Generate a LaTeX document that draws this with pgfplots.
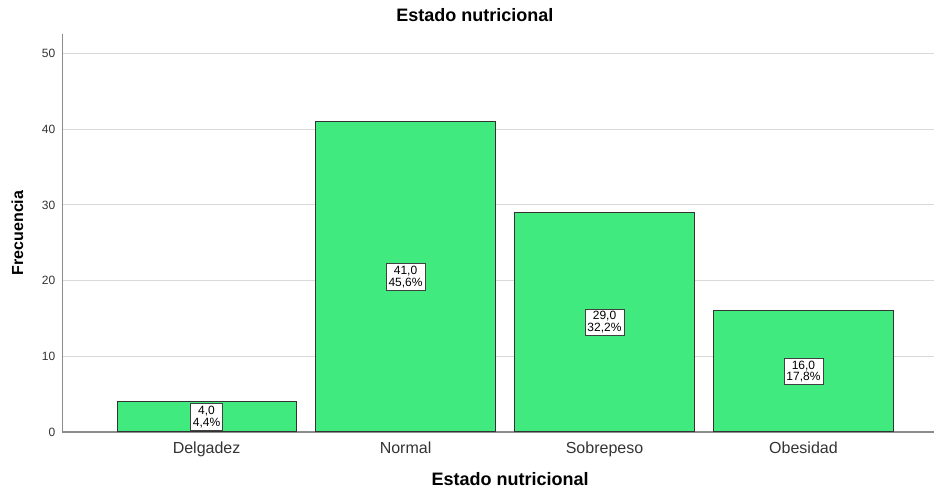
\documentclass[border=0pt]{standalone}
\usepackage{pgfplots}
\pgfplotsset{compat=1.18}
\usepackage{fontspec}
\setmainfont{Liberation Sans}
\definecolor{barg}{HTML}{40EA7E}
\definecolor{gridc}{HTML}{D9D9D9}
\definecolor{axc}{HTML}{8C8C8C}
\definecolor{txt}{HTML}{333333}
\begin{document}
\begin{tikzpicture}
\useasboundingbox (-62.5pt,-57pt) rectangle (871.5pt,432pt);
\begin{axis}[
  scale only axis, width=871.5pt, height=398pt,
  xmin=-0.724, xmax=3.656, ymin=0, ymax=52.6,
  axis x line*=bottom, axis y line*=left,
  axis line style={draw=axc, line width=1.2pt, -},
  ytick={0,10,...,50},
  xtick={0,1,2,3},
  xticklabels={Delgadez,Normal,Sobrepeso,Obesidad},
  major tick length=0pt,
  ymajorgrids, grid style={draw=gridc, line width=1pt},
  /pgf/number format/assume math mode=true,
  yticklabel style={font=\fontsize{12}{14}\selectfont, text=txt, inner sep=0pt, xshift=-7pt, anchor=east},
  xticklabel style={font=\fontsize{16}{18}\selectfont, text=txt, anchor=base, inner sep=0pt, yshift=-22pt},
  title={Estado nutricional},
  title style={at={(axis description cs:0.4733,1.0327)}, anchor=center, font=\bfseries\fontsize{18}{21}\selectfont},
  xlabel={Estado nutricional},
  xlabel style={at={(axis description cs:0.5135,-0.117)}, anchor=center, inner sep=0pt, font=\bfseries\fontsize{18}{21}\selectfont},
  ylabel={Frecuencia},
  ylabel style={at={(axis description cs:-0.0516,0.5)}, anchor=center, font=\bfseries\fontsize{16}{19}\selectfont},
  clip=false,
]
\addplot[ybar, bar width=0.9, fill=barg, draw=black!80, line width=1pt] coordinates {(0,4) (1,41) (2,29) (3,16)};
\addplot[draw=none, mark=none, nodes near coords, point meta=explicit symbolic,
  nodes near coords style={anchor=center, draw=black!75, fill=white, line width=0.8pt, inner sep=2.5pt, align=center, font=\fontsize{12}{11.5}\selectfont, text=black}]
  coordinates {(0,2) [4,0\\4,4\%] (1,20.5) [41,0\\45,6\%] (2,14.5) [29,0\\32,2\%] (3,8) [16,0\\17,8\%]};
\end{axis}
\end{tikzpicture}
\end{document}
